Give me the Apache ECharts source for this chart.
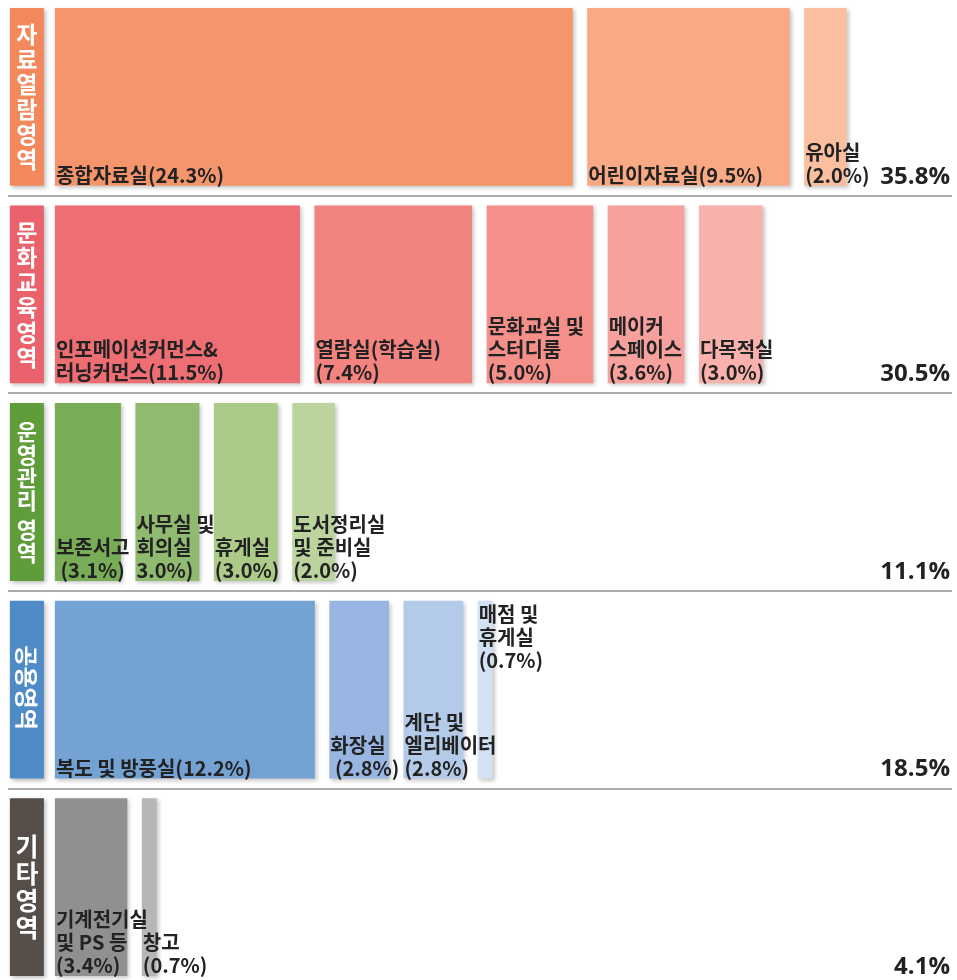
<!DOCTYPE html>
<html><head><meta charset="utf-8">
<script src="https://cdn.jsdelivr.net/npm/echarts@6/dist/echarts.min.js"></script>
<style>html,body{margin:0;padding:0;background:#fff;overflow:hidden}#c{width:957px;height:988px;margin-top:-2px}</style>
</head><body><div id="c"></div>
<script>
// ---- data ----
const groups = ['자료열람영역', '문화교육영역', '운영관리 영역', '공용영역', '기타영역'];
const totals = ['35.8%', '30.5%', '11.1%', '18.5%', '4.1%'];
const itemValues = [
  [24.3, 9.5, 2.0],
  [11.5, 7.4, 5.0, 3.6, 3.0],
  [3.1, 3.0, 3.0, 2.0],
  [12.2, 2.8, 2.8, 0.7],
  [3.4, 0.7]
];
const itemLabels = [
  ['종합자료실(24.3%)', '어린이자료실(9.5%)', '유아실\n(2.0%)'],
  ['인포메이션커먼스&\n러닝커먼스(11.5%)', '열람실(학습실)\n(7.4%)', '문화교실 및\n스터디룸\n(5.0%)', '메이커\n스페이스\n(3.6%)', '다목적실\n(3.0%)'],
  ['보존서고\n (3.1%)', '사무실 및\n회의실\n3.0%)', '휴게실\n(3.0%)', '도서정리실\n및 준비실\n(2.0%)'],
  ['복도 및 방풍실(12.2%)', '화장실\n (2.8%)', '계단 및\n엘리베이터\n(2.8%)', '매점 및\n휴게실\n(0.7%)'],
  ['기계전기실\n및 PS 등\n(3.4%)', '창고\n(0.7%)']
];

// ---- styles ----
const groupColors = ['#F2885C', '#E9626C', '#5F9D3B', '#4E8BC7', '#564E49'];
const itemColors = [
  ['#F5956B', '#F9A984', '#F9BF9E'],
  ['#EE6E74', '#F2837F', '#F58F8A', '#F6A19E', '#F8B1AB'],
  ['#78AC56', '#91BA71', '#ACCB89', '#BBD49D'],
  ['#74A2D3', '#98B6E1', '#B4CAE9', '#D4E1F5'],
  ['#909090', '#B6B6B6']
];
const vertFont = [23, 23, 22, 23, 25];
const vertPitch = [25, 25, 23, 24, 27];
const rotatedGroup = 3;
const topLabel = {g: 3, i: 3};
const GAP = 14.5;
const FONT = '"Noto Sans CJK KR", "Noto Sans", sans-serif';

// build series data from values (start = cumulative sum)
const barData = [];
itemValues.forEach((vals, g) => {
  let start = 0;
  vals.forEach((v, i) => { barData.push([start, v, g, i]); start += v; });
});
const groupData = groups.map((_, g) => [0, 0, g]);

function barGeom(api) {
  const start = api.value(0), v = api.value(1), g = api.value(2), i = api.value(3);
  const p0 = api.coord([start, g]);
  const p1 = api.coord([start + v, g]);
  const band = api.size([0, 1])[1];
  const h = band * 0.9;
  return {g, i, x: p0[0] + i * GAP, w: p1[0] - p0[0], top: p0[1] - h / 2, h};
}

function renderBar(params, api) {
  const b = barGeom(api);
  return {
    type: 'rect',
    shape: {x: b.x, y: b.top, width: b.w, height: b.h},
    style: {fill: itemColors[b.g][b.i], shadowBlur: 4, shadowOffsetX: 2, shadowOffsetY: 2, shadowColor: 'rgba(0,0,0,0.22)'}
  };
}

function renderLabel(params, api) {
  const b = barGeom(api);
  const isTop = (b.g === topLabel.g && b.i === topLabel.i);
  return {
    type: 'text',
    x: b.x + 1,
    y: isTop ? b.top + 2 : b.top + b.h + 1,
    style: {
      text: itemLabels[b.g][b.i], fill: '#222',
      font: 'bold 20px ' + FONT, lineHeight: 23,
      align: 'left', verticalAlign: isTop ? 'top' : 'bottom'
    }
  };
}

function renderGroup(params, api) {
  const g = api.value(2);
  const p = api.coord([0, g]);
  const band = api.size([0, 1])[1];
  const h = band * 0.9;
  const top = p[1] - h / 2;
  const bx = p[0] - 45, bw = 34;
  const cx = bx + bw / 2, cy = p[1];
  const children = [{
    type: 'rect', shape: {x: bx, y: top, width: bw, height: h},
    style: {fill: groupColors[g], shadowBlur: 4, shadowOffsetX: 2, shadowOffsetY: 2, shadowColor: 'rgba(0,0,0,0.25)'}
  }];
  const fs = vertFont[g];
  if (g === rotatedGroup) {
    children.push({
      type: 'text', x: cx, y: cy - 2, rotation: -Math.PI / 2,
      style: {text: groups[g], fill: '#fff', font: 'bold ' + fs + 'px ' + FONT, align: 'center', verticalAlign: 'middle'}
    });
  } else {
    const chars = Array.from(groups[g]);
    const units = chars.map(c => c === ' ' ? 0.25 : 1);
    const total = units.reduce((a, c) => a + c, 0) * vertPitch[g];
    let y = cy - total / 2;
    chars.forEach((c, k) => {
      const step = units[k] * vertPitch[g];
      if (c !== ' ') {
        children.push({
          type: 'text', x: cx, y: y + step / 2,
          style: {text: c, fill: '#fff', font: 'bold ' + fs + 'px ' + FONT, align: 'center', verticalAlign: 'middle'}
        });
      }
      y += step;
    });
  }
  children.push({
    type: 'text', x: params.coordSys.x + params.coordSys.width - 2, y: top + h + 3,
    style: {text: totals[g], fill: '#222', font: 'bold 24px "Open Sans", "Noto Sans", sans-serif', align: 'right', verticalAlign: 'bottom'}
  });
  return {type: 'group', children};
}

const chart = echarts.init(document.getElementById('c'));
chart.setOption({
  animation: false,
  grid: {left: 8, right: 5, top: 0, bottom: 0},
  xAxis: {type: 'value', min: -2.2, max: 42.1, show: false},
  yAxis: {
    type: 'category', data: groups, inverse: true,
    axisLine: {show: false}, axisTick: {show: false}, axisLabel: {show: false},
    splitLine: {show: true, lineStyle: {color: '#ababab', width: 2}}
  },
  series: [
    {type: 'custom', renderItem: renderGroup, data: groupData, encode: {x: 0, y: 2}, z: 2},
    {type: 'custom', renderItem: renderBar, data: barData, encode: {x: [0, 1], y: 2}, z: 3},
    {type: 'custom', renderItem: renderLabel, data: barData, encode: {x: [0, 1], y: 2}, z: 4}
  ]
});
</script></body></html>
